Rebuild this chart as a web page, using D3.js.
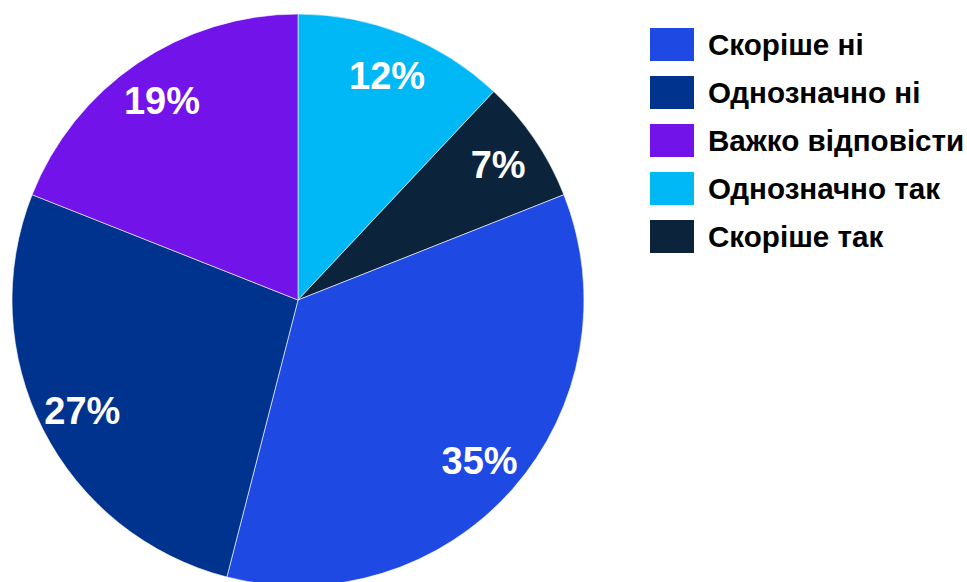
<!DOCTYPE html>
<html>
<head>
<meta charset="utf-8">
<script src="https://cdn.jsdelivr.net/npm/d3@7"></script>
<style>
  html, body { margin: 0; padding: 0; background: #fff; }
  svg { display: block; }
</style>
</head>
<body>
<svg id="chart" width="967" height="582"></svg>
<script>
// Survey answers, in clockwise order from 12 o'clock
const sliceLabels = ["Однозначно так", "Скоріше так", "Скоріше ні", "Однозначно ні", "Важко відповісти"];
const sliceValues = [12, 7, 35, 27, 19];

// Legend order
const legendLabels = ["Скоріше ні", "Однозначно ні", "Важко відповісти", "Однозначно так", "Скоріше так"];

const colorMap = {
  "Скоріше ні": "#1E49E2",
  "Однозначно ні": "#00338D",
  "Важко відповісти": "#7213EA",
  "Однозначно так": "#00B8F5",
  "Скоріше так": "#0C233C"
};

const svg = d3.select("#chart");
const cx = 298, cy = 300, radius = 286;

const data = sliceLabels.map((name, i) => ({ name, value: sliceValues[i] }));

const pie = d3.pie().value(d => d.value).sort(null);
const arc = d3.arc().innerRadius(0).outerRadius(radius);
const labelArc = d3.arc().innerRadius(242).outerRadius(242);

const g = svg.append("g").attr("transform", `translate(${cx},${cy})`);
const arcs = pie(data);

g.selectAll("path.slice")
  .data(arcs)
  .enter().append("path")
  .attr("class", "slice")
  .attr("d", arc)
  .attr("fill", d => colorMap[d.data.name])
  .attr("stroke", "#ffffff")
  .attr("stroke-width", 0.6);

g.selectAll("text.pct")
  .data(arcs)
  .enter().append("text")
  .attr("class", "pct")
  .attr("transform", d => `translate(${labelArc.centroid(d)})`)
  .attr("text-anchor", "middle")
  .attr("dy", "0.36em")
  .attr("fill", "#ffffff")
  .attr("font-family", "Liberation Sans, Arial, sans-serif")
  .attr("font-weight", "bold")
  .attr("font-size", 38)
  .text(d => d.data.value + "%");

// Legend
const legend = svg.append("g").attr("transform", "translate(650,28)");
const item = legend.selectAll("g.item")
  .data(legendLabels)
  .enter().append("g")
  .attr("class", "item")
  .attr("transform", (d, i) => `translate(0,${i * 48})`);

item.append("rect")
  .attr("width", 44)
  .attr("height", 33)
  .attr("fill", d => colorMap[d]);

item.append("text")
  .attr("x", 58)
  .attr("y", 16)
  .attr("dy", "0.36em")
  .attr("font-family", "Liberation Sans, Arial, sans-serif")
  .attr("font-weight", "bold")
  .attr("font-size", 29.6)
  .attr("fill", "#000")
  .text(d => d);
</script>
</body>
</html>
